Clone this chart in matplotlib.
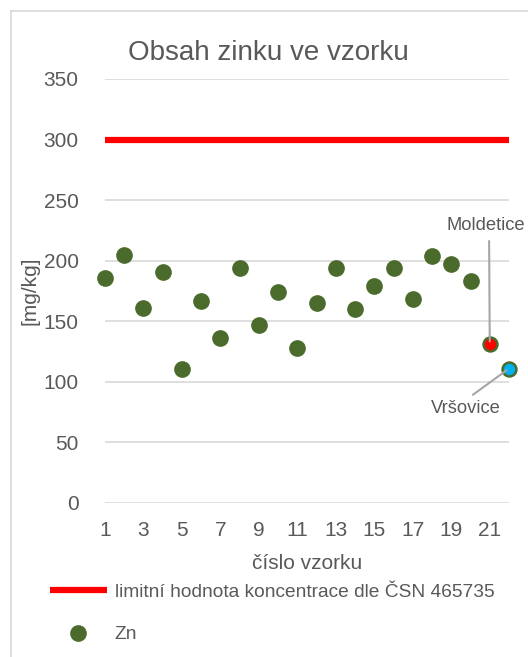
import matplotlib
matplotlib.use("Agg")
import matplotlib.pyplot as plt
from matplotlib.lines import Line2D

plt.rcParams['font.family'] = ['Liberation Sans', 'DejaVu Sans']

# Zinc content per sample [mg/kg]
samples = list(range(1, 23))
zn = [186, 205, 161, 191, 111, 167, 136, 194, 147, 174, 128,
      165, 194, 160, 179, 194, 168, 204, 197, 183, 131, 111]
limit_value = 300
limit_label = "limitní hodnota koncentrace dle ČSN 465735"
highlight = {21: ("Moldetice", "#FF0000"), 22: ("Vršovice", "#00B0F0")}
y_ticks = [0, 50, 100, 150, 200, 250, 300, 350]
x_ticks = [1, 3, 5, 7, 9, 11, 13, 15, 17, 19, 21]

text_color = "#595959"
grid_color = "#D9D9D9"
green = "#4A6B2C"

fig = plt.figure(figsize=(5.28, 6.57), dpi=100)
ax = fig.add_axes([105 / 528, 154 / 657, 404 / 528, 424 / 657])

ax.set_xlim(samples[0], samples[-1])
ax.set_ylim(y_ticks[0], y_ticks[-1])
ax.set_yticks(y_ticks)
ax.set_xticks(x_ticks)
ax.grid(axis='y', color=grid_color, linewidth=1.2)
ax.set_axisbelow(True)
for s in ax.spines.values():
    s.set_visible(False)
ax.tick_params(length=0, labelsize=15, colors=text_color)
ax.tick_params(axis='x', pad=13)
ax.tick_params(axis='y', pad=19)

limit_line, = ax.plot([samples[0], samples[-1]], [limit_value, limit_value],
                      color="#FF0000", linewidth=4.5, solid_capstyle='butt',
                      label=limit_label, zorder=3)

base_x = [s for s in samples if s not in highlight]
base_y = [v for s, v in zip(samples, zn) if s not in highlight]
pts, = ax.plot(base_x, base_y, linestyle='none', marker='o', markersize=11,
               color=green, markeredgecolor=green, label="Zn", zorder=4,
               clip_on=False)

# label position (data coords) and anchor point of the leader line on the text
label_pos = {21: ((20.78, 229), (0.545, 0.0)), 22: ((19.75, 78), (0.5, 1.0))}
for s, (name, col) in highlight.items():
    v = zn[samples.index(s)]
    ax.plot([s], [v], linestyle='none', marker='o', markersize=10,
            markerfacecolor=col, markeredgecolor=green, markeredgewidth=1.8,
            zorder=5, clip_on=False)
    pos, rel = label_pos[s]
    ax.annotate(name, xy=(s, v), xytext=pos, ha='center', va='center',
                fontsize=13.2, color=text_color,
                arrowprops=dict(arrowstyle='-', color="#A6A6A6", lw=1.5,
                                relpos=rel, shrinkA=3, shrinkB=2), zorder=6)

ax.set_title("Obsah zinku ve vzorku", fontsize=20, color=text_color,
             x=(268 - 105) / 404, pad=14)
ax.set_xlabel("číslo vzorku", fontsize=15, color=text_color, labelpad=10)
ax.set_ylabel("[mg/kg]", fontsize=15, color=text_color, labelpad=3)

leg = fig.legend(handles=[limit_line, pts], loc='upper left',
                 bbox_to_anchor=(42 / 528, 1 - 576 / 657), frameon=False,
                 fontsize=13.8, labelcolor=text_color, handlelength=3.0,
                 handletextpad=0.4, labelspacing=1.3, borderaxespad=0)

# chart frame
fig.add_artist(Line2D([10.5 / 528, 10.5 / 528], [0, 1 - 10.5 / 657],
                      color=grid_color, linewidth=1.2, transform=fig.transFigure))
fig.add_artist(Line2D([10.5 / 528, 1], [1 - 10.5 / 657, 1 - 10.5 / 657],
                      color=grid_color, linewidth=1.2, transform=fig.transFigure))

fig.savefig("out.png", dpi=100)
